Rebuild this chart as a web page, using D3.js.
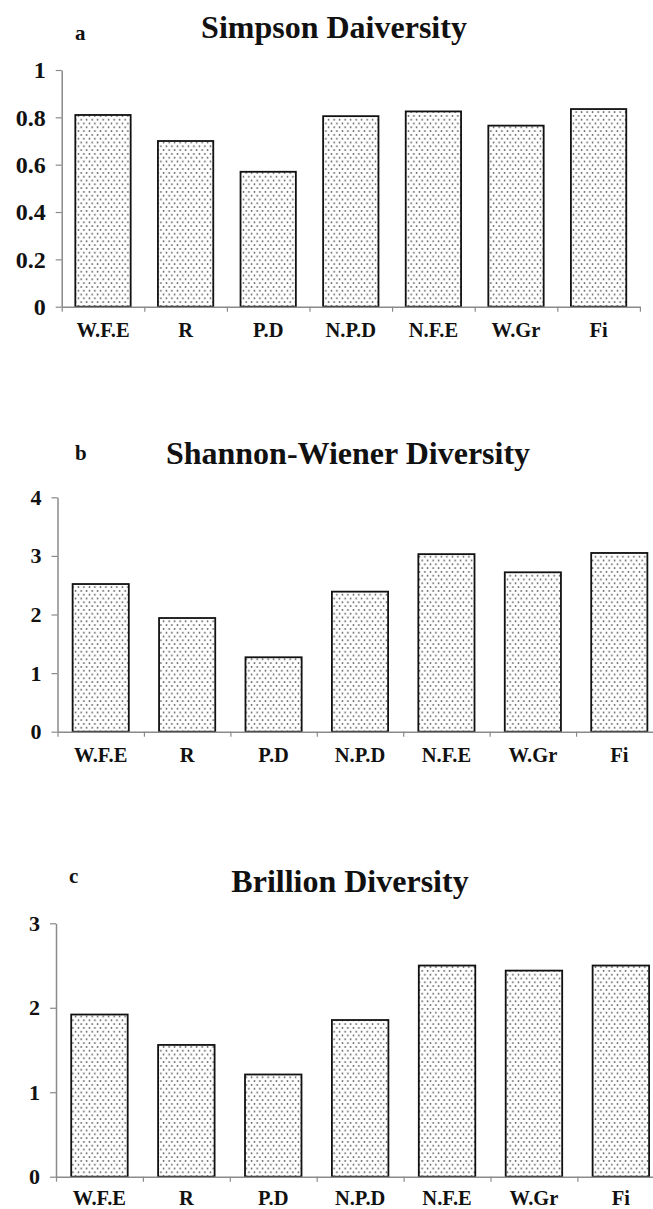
<!DOCTYPE html>
<html>
<head>
<meta charset="utf-8">
<script src="https://cdn.jsdelivr.net/npm/d3@7"></script>
<style>
  html, body { margin: 0; padding: 0; background: #fff; }
  svg { display: block; }
  text { font-family: "Liberation Serif", "Times New Roman", serif; font-weight: bold; fill: #111; }
</style>
</head>
<body>
<svg id="chart" width="653" height="1209"></svg>
<script>
// Habitat categories shared by all three panels
const categories = ["W.F.E", "R", "P.D", "N.P.D", "N.F.E", "W.Gr", "Fi"];

// Diversity indices per habitat
const simpson   = [0.81, 0.70, 0.57, 0.805, 0.825, 0.765, 0.835];
const shannon   = [2.52, 1.94, 1.27, 2.39, 3.03, 2.72, 3.05];
const brillouin = [1.92, 1.56, 1.21, 1.855, 2.50, 2.44, 2.50];

// Y tick values
const simpsonTicks   = [0, 0.2, 0.4, 0.6, 0.8, 1];
const shannonTicks   = [0, 1, 2, 3, 4];
const brillouinTicks = [0, 1, 2, 3];

// Panel titles and letters
const titles  = ["Simpson Daiversity", "Shannon-Wiener Diversity", "Brillion Diversity"];
const letters = ["a", "b", "c"];

const svg = d3.select("#chart");

// Stippled fill used for every bar
const defs = svg.append("defs");
const pat = defs.append("pattern")
  .attr("id", "dots")
  .attr("patternUnits", "userSpaceOnUse")
  .attr("width", 5.5).attr("height", 7.6);
pat.append("rect").attr("width", 5.5).attr("height", 7.6).attr("fill", "#fff");
pat.append("circle").attr("cx", 1.4).attr("cy", 1.9).attr("r", 0.85).attr("fill", "#555");
pat.append("circle").attr("cx", 4.15).attr("cy", 5.7).attr("r", 0.85).attr("fill", "#555");

// Layout of each panel
const panels = [
  { values: simpson,   ticks: simpsonTicks,   max: 1, fmt: d => d === 0 || d === 1 ? String(d) : d.toFixed(1),
    x0: 61.7, x1: 639.9, y0: 306.7, yTop: 70,    pad: 0.33, tickFont: 24,
    titleX: 334, titleY: 38,  letterX: 75, letterY: 40, labelY: 30 },
  { values: shannon,   ticks: shannonTicks,   max: 4, fmt: d3.format("d"),
    x0: 57.5, x1: 662.5, y0: 731.7, yTop: 497.3, pad: 0.35, tickFont: 22,
    titleX: 348, titleY: 464, letterX: 75, letterY: 460, labelY: 30 },
  { values: brillouin, ticks: brillouinTicks, max: 3, fmt: d3.format("d"),
    x0: 56, x1: 664.3, y0: 1176.7, yTop: 923.3, pad: 0.35, tickFont: 22,
    titleX: 350, titleY: 892, letterX: 69, letterY: 883, labelY: 28 }
];

const axisColor = "#8a8a8a";

panels.forEach((p, i) => {
  const g = svg.append("g");

  const x = d3.scaleBand()
    .domain(categories)
    .range([p.x0, p.x1])
    .paddingInner(p.pad)
    .paddingOuter(p.pad / 2);

  const xEdges = d3.scaleLinear().domain([0, categories.length]).range([p.x0, p.x1]);

  const y = d3.scaleLinear().domain([0, p.max]).range([p.y0, p.yTop]);

  // Bars
  g.append("g").selectAll("rect")
    .data(p.values)
    .join("rect")
    .attr("x", (d, j) => x(categories[j]))
    .attr("y", d => y(d))
    .attr("width", x.bandwidth())
    .attr("height", d => y(0) - y(d))
    .attr("fill", "url(#dots)")
    .attr("stroke", "#111")
    .attr("stroke-width", 1.8);

  // Y axis
  const yAxis = g.append("g")
    .attr("transform", `translate(${p.x0},0)`)
    .call(d3.axisLeft(y).tickValues(p.ticks).tickFormat(p.fmt).tickSize(6).tickSizeOuter(0).tickPadding(10));
  yAxis.select(".domain").attr("stroke", axisColor).attr("stroke-width", 1.5);
  yAxis.selectAll(".tick line").attr("stroke", axisColor).attr("stroke-width", 1.2);
  yAxis.selectAll(".tick text")
    .style("font-size", p.tickFont + "px")
    .attr("fill", "#111");

  // X axis line with ticks at category boundaries
  const xEdgeAxis = g.append("g")
    .attr("transform", `translate(0,${p.y0})`)
    .call(d3.axisBottom(xEdges).tickValues(d3.range(0, categories.length + 1)).tickFormat("").tickSize(5).tickSizeOuter(0));
  xEdgeAxis.select(".domain").attr("stroke", axisColor).attr("stroke-width", 1.5);
  xEdgeAxis.selectAll(".tick line").attr("stroke", axisColor).attr("stroke-width", 1.2);

  // Category labels
  const xLab = g.append("g")
    .attr("transform", `translate(0,${p.y0})`)
    .call(d3.axisBottom(x).tickSize(0));
  xLab.select(".domain").remove();
  xLab.selectAll(".tick text")
    .attr("y", p.labelY)
    .attr("dy", 0)
    .style("font-size", "20.5px")
    .attr("fill", "#111");

  // Title and panel letter
  g.append("text")
    .attr("x", p.titleX).attr("y", p.titleY)
    .attr("text-anchor", "middle")
    .style("font-size", "32px")
    .text(titles[i]);
  g.append("text")
    .attr("x", p.letterX).attr("y", p.letterY)
    .style("font-size", "21px")
    .text(letters[i]);
});
</script>
</body>
</html>
